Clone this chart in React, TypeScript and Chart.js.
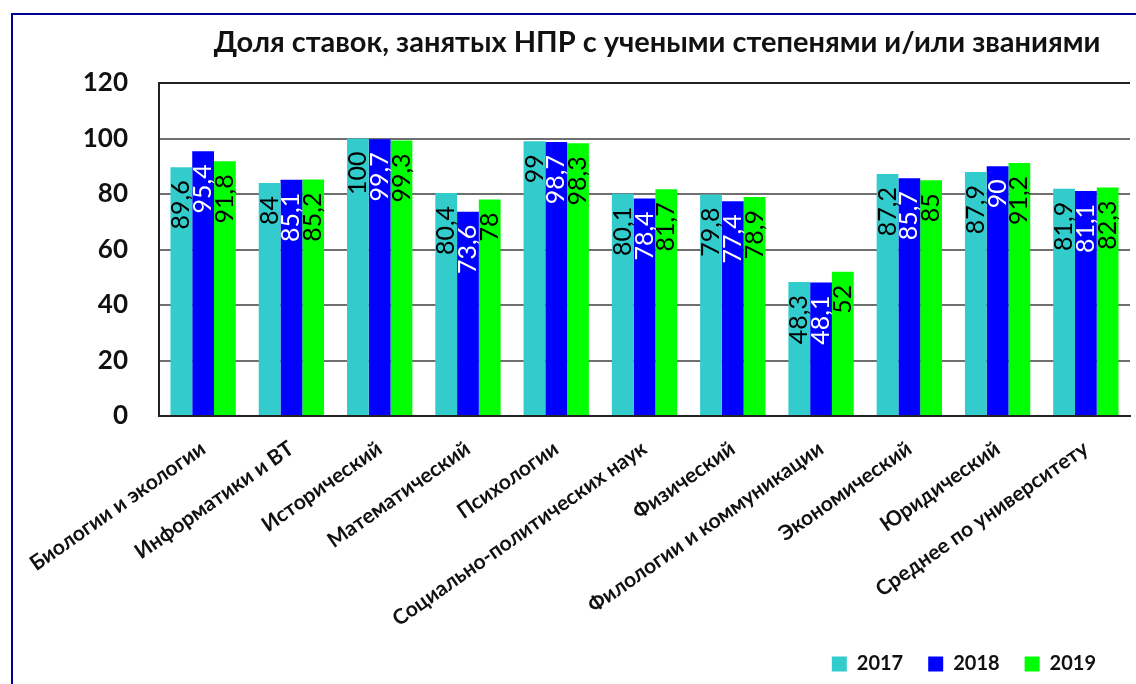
import React, { useEffect, useRef } from "react";
import { Chart, registerables } from "chart.js";

Chart.register(...registerables);

const categories = [
  "Биологии и экологии",
  "Информатики и ВТ",
  "Исторический",
  "Математический",
  "Психологии",
  "Социально-политических наук",
  "Физический",
  "Филологии и коммуникации",
  "Экономический",
  "Юридический",
  "Среднее по университету",
];
const seriesNames = ["2017", "2018", "2019"];
const values2017 = [89.6, 84, 100, 80.4, 99, 80.1, 79.8, 48.3, 87.2, 87.9, 81.9];
const values2018 = [95.4, 85.1, 99.7, 73.6, 98.7, 78.4, 77.4, 48.1, 85.7, 90, 81.1];
const values2019 = [91.8, 85.2, 99.3, 78, 98.3, 81.7, 78.9, 52, 85, 91.2, 82.3];
const yTicks = [0, 20, 40, 60, 80, 100, 120];

const titleText = "Доля ставок, занятых НПР с учеными степенями и/или званиями";
const barColors = ["#33CCCC", "#0000FF", "#00FF00"];
const labelColors = ["#000000", "#FFFFFF", "#000000"];

const fmt = (v: number) => String(v).replace(".", ",");

const barLabelPlugin = {
  id: "barLabels",
  afterDatasetsDraw(chart: any) {
    const ctx = chart.ctx;
    chart.data.datasets.forEach((ds: any, di: number) => {
      const meta = chart.getDatasetMeta(di);
      meta.data.forEach((bar: any, i: number) => {
        const v = ds.data[i];
        ctx.save();
        ctx.translate(bar.x, bar.y + 13);
        ctx.rotate(-Math.PI / 2);
        ctx.font = "25px Lato";
        ctx.fillStyle = labelColors[di];
        ctx.textAlign = "right";
        ctx.textBaseline = "middle";
        ctx.fillText(fmt(v), 0, 0);
        ctx.restore();
      });
    });
  },
};

const layoutTweak = {
  id: "layoutTweak",
  afterLayout(chart: any) {
    const t = chart.titleBlock;
    if (t) {
      t.left = 184;
      t.right = 1130;
    }
    const l = chart.legend;
    if (l) {
      l.right = 1121;
    }
  },
};

export default function App() {
  const ref = useRef<HTMLCanvasElement | null>(null);
  useEffect(() => {
    document.body.style.overflow = "hidden";
    if (!ref.current) return;
    const data = [values2017, values2018, values2019];
    const chart = new Chart(ref.current, {
      type: "bar",
      data: {
        labels: categories,
        datasets: seriesNames.map((name, i) => ({
          label: name,
          data: data[i],
          backgroundColor: barColors[i],
          borderWidth: 0,
          categoryPercentage: 0.74,
          barPercentage: 1.0,
        })),
      },
      options: {
        responsive: false,
        animation: false,
        layout: { padding: { left: 0, right: 6, top: 0, bottom: 0 } },
        plugins: {
          title: {
            display: true,
            text: titleText,
            color: "#111",
            font: { family: "Lato", size: 29, weight: "bold", lineHeight: 1.2 },
            padding: { top: 25, bottom: 23.2 },
          },
          legend: {
            display: true,
            position: "bottom",
            align: "end",
            labels: {
              boxWidth: 15,
              boxHeight: 15,
              padding: 25,
              color: "#111",
              font: { family: "Lato", size: 20, weight: "bold" },
            },
          },
          tooltip: { enabled: false },
        },
        scales: {
          x: {
            grid: { display: false },
            border: { display: true, color: "#222", width: 2 },
            ticks: {
              autoSkip: false,
              minRotation: 35,
              maxRotation: 35,
              color: "#111",
              padding: 12,
              font: { family: "Lato", size: 21, weight: "bold" },
            },
            afterFit: (scale: any) => {
              scale.height = 213;
            },
          },
          y: {
            min: 0,
            max: 120,
            afterBuildTicks: (scale: any) => {
              scale.ticks = yTicks.map((v) => ({ value: v }));
            },
            grid: {
              drawTicks: false,
              color: (c: any) => (c.tick && (c.tick.value === 120 || c.tick.value === 0) ? "#222" : "#6f6f6f"),
              lineWidth: 2,
            },
            border: { display: true, color: "#222", width: 2 },
            ticks: {
              padding: 31,
              color: "#111",
              font: { family: "Lato", size: 26, weight: "bold" },
            },
            afterFit: (scale: any) => {
              scale.width = 159;
            },
          },
        },
      },
      plugins: [barLabelPlugin, layoutTweak],
    } as any);
    return () => chart.destroy();
  }, []);

  return (
    <div>
      <div
        style={{
          position: "absolute",
          left: 11,
          top: 13,
          width: 1125,
          height: 671,
          boxSizing: "border-box",
          borderTop: "2px solid #000099",
          borderLeft: "2px solid #000099",
        }}
      />
      <canvas
        ref={ref}
        width={1136}
        height={684}
        style={{ position: "absolute", left: 0, top: 0, width: 1136, height: 684, display: "block" }}
      />
    </div>
  );
}
